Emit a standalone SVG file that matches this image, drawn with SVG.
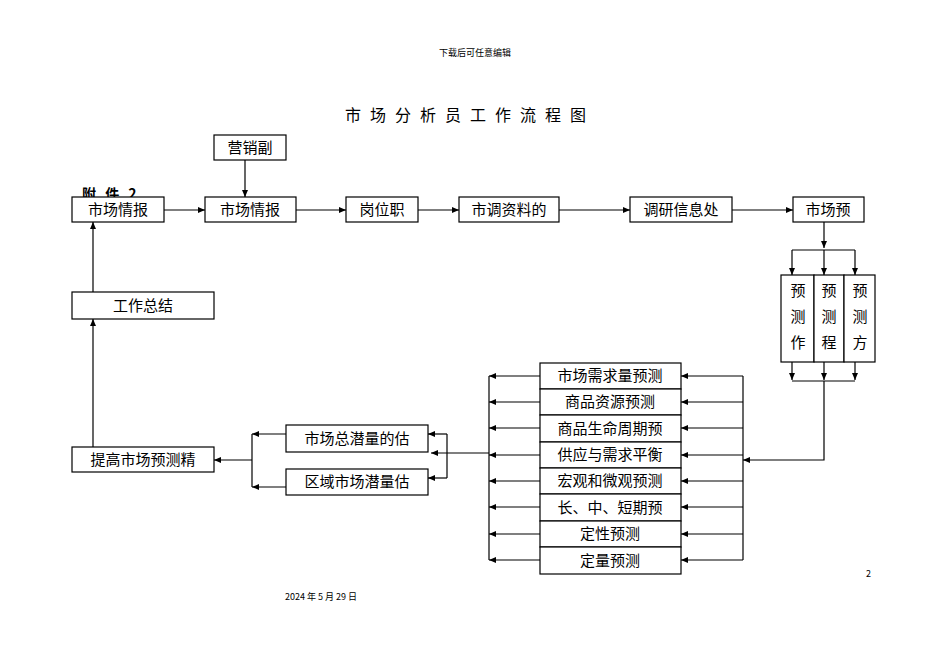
<svg xmlns="http://www.w3.org/2000/svg" width="950" height="672" viewBox="0 0 950 672">
<defs>
<marker id="a" markerWidth="8" markerHeight="8" refX="7" refY="4" orient="auto" markerUnits="userSpaceOnUse"><path d="M0,1 L7,4 L0,7 z" fill="#000"/></marker>
<style>
text{font-family:"Noto Sans CJK SC","Liberation Sans",sans-serif;fill:#000}
.b{fill:#fff;stroke:#000;stroke-width:1.2}
.t{font-size:15px;text-anchor:middle}
.c line,.c polyline{stroke:#000;stroke-width:1.2;fill:none}
.ar{marker-end:url(#a)}
</style>
</defs>
<rect width="950" height="672" fill="#fff"/>
<text x="475" y="56" font-size="9" text-anchor="middle" font-family="Liberation Serif,Noto Sans CJK SC,serif">下载后可任意编辑</text>
<text x="470" y="121" font-size="16" text-anchor="middle" letter-spacing="9">市场分析员工作流程图</text>
<text x="82" y="199" font-size="14" font-weight="bold" letter-spacing="3">附 件 2</text>
<g class="c">
<line class="ar" x1="164" y1="210" x2="205" y2="210"/>
<line class="ar" x1="296" y1="210" x2="346" y2="210"/>
<line class="ar" x1="418" y1="210" x2="459" y2="210"/>
<line class="ar" x1="559" y1="210" x2="630" y2="210"/>
<line class="ar" x1="732" y1="210" x2="793" y2="210"/>
<line class="ar" x1="245" y1="160" x2="245" y2="197"/>
<line class="ar" x1="824" y1="222" x2="824" y2="248"/>
<line x1="792" y1="250" x2="855" y2="250"/>
<line class="ar" x1="792" y1="250" x2="792" y2="275"/>
<line class="ar" x1="824" y1="250" x2="824" y2="275"/>
<line class="ar" x1="855" y1="250" x2="855" y2="275"/>
<line class="ar" x1="792" y1="362" x2="792" y2="380"/>
<line class="ar" x1="824" y1="362" x2="824" y2="380"/>
<line class="ar" x1="855" y1="362" x2="855" y2="380"/>
<line x1="792" y1="381" x2="855" y2="381"/>
<polyline class="ar" points="824,381 824,460 743,460"/>
<line x1="743" y1="376" x2="743" y2="560"/>
<line x1="489" y1="376" x2="489" y2="560"/>
<line class="ar" x1="743" y1="376" x2="681" y2="376"/>
<line class="ar" x1="743" y1="402" x2="681" y2="402"/>
<line class="ar" x1="743" y1="428" x2="681" y2="428"/>
<line class="ar" x1="743" y1="455" x2="681" y2="455"/>
<line class="ar" x1="743" y1="481" x2="681" y2="481"/>
<line class="ar" x1="743" y1="507" x2="681" y2="507"/>
<line class="ar" x1="743" y1="534" x2="681" y2="534"/>
<line class="ar" x1="743" y1="560" x2="681" y2="560"/>
<line class="ar" x1="540" y1="376" x2="489" y2="376"/>
<line class="ar" x1="540" y1="402" x2="489" y2="402"/>
<line class="ar" x1="540" y1="428" x2="489" y2="428"/>
<line class="ar" x1="540" y1="455" x2="489" y2="455"/>
<line class="ar" x1="540" y1="481" x2="489" y2="481"/>
<line class="ar" x1="540" y1="507" x2="489" y2="507"/>
<line class="ar" x1="540" y1="534" x2="489" y2="534"/>
<line class="ar" x1="540" y1="560" x2="489" y2="560"/>
<line class="ar" x1="489" y1="453" x2="431" y2="453"/>
<line x1="447" y1="434" x2="447" y2="478"/>
<line class="ar" x1="447" y1="434" x2="428" y2="434"/>
<line class="ar" x1="447" y1="478" x2="428" y2="478"/>
<line x1="252" y1="434" x2="252" y2="487"/>
<line class="ar" x1="286" y1="434" x2="252" y2="434"/>
<line class="ar" x1="286" y1="487" x2="252" y2="487"/>
<line class="ar" x1="252" y1="460" x2="214" y2="460"/>
<line class="ar" x1="93" y1="447" x2="93" y2="319"/>
<line class="ar" x1="93" y1="292" x2="93" y2="222"/>
</g>
<g id="n1"><rect class="b" x="72" y="197" width="92" height="25"/><text class="t" x="118" y="215">市场情报</text></g>
<g id="n2"><rect class="b" x="205" y="197" width="91" height="25"/><text class="t" x="250" y="215">市场情报</text></g>
<g id="n3"><rect class="b" x="214" y="135" width="72" height="25"/><text class="t" x="250" y="153">营销副</text></g>
<g id="n4"><rect class="b" x="346" y="197" width="72" height="25"/><text class="t" x="382" y="215">岗位职</text></g>
<g id="n5"><rect class="b" x="459" y="197" width="100" height="25"/><text class="t" x="509" y="215">市调资料的</text></g>
<g id="n6"><rect class="b" x="630" y="197" width="102" height="25"/><text class="t" x="681" y="215">调研信息处</text></g>
<g id="n7"><rect class="b" x="793" y="197" width="71" height="25"/><text class="t" x="828" y="215">市场预</text></g>
<g id="n8"><rect class="b" x="781" y="275" width="33" height="87"/><text class="t" x="798" y="296">预</text><text class="t" x="798" y="322">测</text><text class="t" x="798" y="348">作</text></g>
<g id="n9"><rect class="b" x="814" y="275" width="30" height="87"/><text class="t" x="829" y="296">预</text><text class="t" x="829" y="322">测</text><text class="t" x="829" y="348">程</text></g>
<g id="n10"><rect class="b" x="844" y="275" width="31" height="87"/><text class="t" x="860" y="296">预</text><text class="t" x="860" y="322">测</text><text class="t" x="860" y="348">方</text></g>
<g id="list">
<rect class="b" x="540" y="363" width="141" height="26"/><text class="t" x="610" y="381">市场需求量预测</text>
<rect class="b" x="540" y="389" width="141" height="26"/><text class="t" x="610" y="407">商品资源预测</text>
<rect class="b" x="540" y="415" width="141" height="27"/><text class="t" x="610" y="434">商品生命周期预</text>
<rect class="b" x="540" y="442" width="141" height="26"/><text class="t" x="610" y="460">供应与需求平衡</text>
<rect class="b" x="540" y="468" width="141" height="26"/><text class="t" x="610" y="486">宏观和微观预测</text>
<rect class="b" x="540" y="494" width="141" height="27"/><text class="t" x="610" y="513">长、中、短期预</text>
<rect class="b" x="540" y="521" width="141" height="26"/><text class="t" x="610" y="539">定性预测</text>
<rect class="b" x="540" y="547" width="141" height="27"/><text class="t" x="610" y="566">定量预测</text>
</g>
<g id="n11"><rect class="b" x="286" y="425" width="142" height="27"/><text class="t" x="357" y="444">市场总潜量的估</text></g>
<g id="n12"><rect class="b" x="286" y="469" width="142" height="26"/><text class="t" x="357" y="487">区域市场潜量估</text></g>
<g id="n13"><rect class="b" x="72" y="447" width="142" height="25"/><text class="t" x="143" y="465">提高市场预测精</text></g>
<g id="n14"><rect class="b" x="72" y="292" width="142" height="27"/><text class="t" x="143" y="311">工作总结</text></g>
<text x="866" y="577" font-size="9" font-family="Liberation Serif,serif">2</text>
<text x="285" y="600" font-size="9" font-family="Liberation Serif,Noto Sans CJK SC,serif">2024 年 5 月 29 日</text>
</svg>
